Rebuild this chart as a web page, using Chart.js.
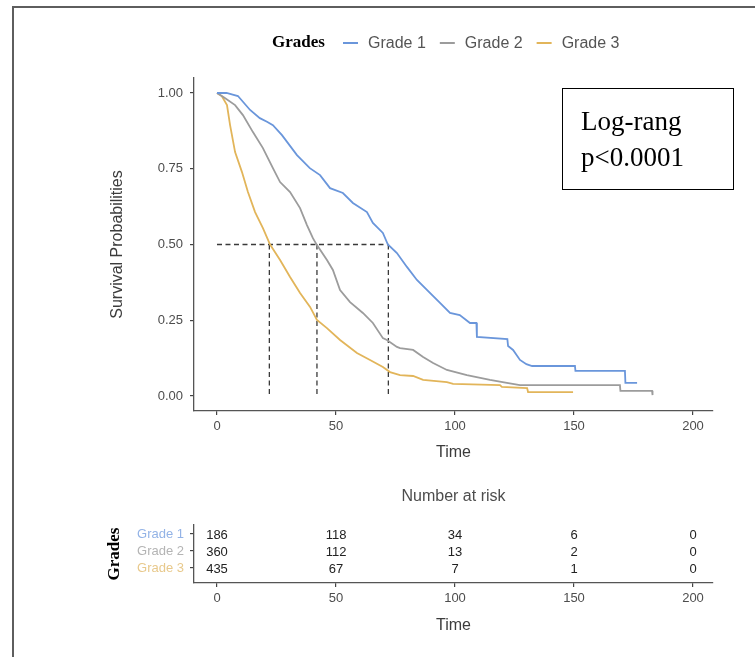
<!DOCTYPE html>
<html>
<head>
<meta charset="utf-8">
<script src="https://cdn.jsdelivr.net/npm/chart.js@4"></script>
<style>
html, body { margin: 0; padding: 0; background: #fff; }
#page { position: relative; width: 755px; height: 657px; overflow: hidden; background: #fff; }
#frame { position: absolute; left: 12px; top: 6px; width: 800px; height: 700px; border-left: 2px solid #5e5e5e; border-top: 2px solid #5e5e5e; }
#survChart { position: absolute; left: 0; top: 0; }
#riskChart { position: absolute; left: 0; top: 470px; }
</style>
</head>
<body>
<div id="page">
  <div id="frame"></div>
  <canvas id="survChart" width="755" height="470"></canvas>
  <canvas id="riskChart" width="755" height="187"></canvas>
</div>
<script>
var GRADES = ['Grade 1', 'Grade 2', 'Grade 3'];

// survival curves (time, probability)
var TIME_G1 = [0, 4, 8.8, 13.9, 18, 21, 23.5, 27.3, 33.6, 39, 43.3, 47.5, 52.9, 57.1, 63, 65.5, 69.7, 71.8, 75.6, 79.8, 84, 88.2, 93.7, 97.9, 102, 106.3, 109, 109.2, 122, 122.3, 124.4, 127.3, 130, 132.4, 150.4, 150.6, 171.4, 171.6, 176.5];
var SURV_G1 = [1, 1, 0.99, 0.944, 0.917, 0.905, 0.894, 0.861, 0.795, 0.752, 0.729, 0.686, 0.670, 0.637, 0.607, 0.571, 0.538, 0.50, 0.472, 0.426, 0.383, 0.350, 0.307, 0.274, 0.267, 0.241, 0.241, 0.195, 0.188, 0.165, 0.152, 0.119, 0.105, 0.099, 0.099, 0.083, 0.083, 0.043, 0.043];
var TIME_G2 = [0, 3, 7.6, 10.9, 15.1, 19.3, 23.5, 26.5, 30.7, 34.9, 37.8, 40.3, 42, 46.2, 48.7, 51.7, 55.9, 61.3, 65.5, 69.7, 71.4, 75.6, 76.9, 82.4, 86.6, 90.8, 96.6, 105, 114.7, 121.8, 127.3, 169.3, 169.5, 182.8, 183];
var SURV_G2 = [1, 0.985, 0.960, 0.927, 0.871, 0.818, 0.752, 0.706, 0.673, 0.620, 0.564, 0.521, 0.498, 0.449, 0.416, 0.350, 0.310, 0.274, 0.241, 0.191, 0.185, 0.162, 0.158, 0.152, 0.129, 0.109, 0.086, 0.069, 0.053, 0.043, 0.036, 0.036, 0.017, 0.017, 0.003];
var TIME_G3 = [0, 2, 4.2, 5.5, 7.6, 10.5, 13, 16, 19.3, 22.3, 26.5, 30.7, 34.9, 39.1, 42, 46.2, 51.7, 58.8, 64.3, 69.7, 72.7, 76.9, 82.4, 86.6, 96.6, 99.2, 118.9, 119.7, 130.3, 130.7, 149.6];
var SURV_G3 = [1, 0.99, 0.960, 0.894, 0.805, 0.739, 0.673, 0.607, 0.554, 0.50, 0.449, 0.393, 0.340, 0.294, 0.251, 0.224, 0.185, 0.142, 0.119, 0.096, 0.079, 0.069, 0.066, 0.053, 0.046, 0.040, 0.036, 0.030, 0.026, 0.013, 0.013];

// median survival per grade (dashed lines)
var MEDIANS = [72, 42, 22];

// number at risk table
var RISK_TIMES = [0, 50, 100, 150, 200];
var RISK_G1 = [186, 118, 34, 6, 0];
var RISK_G2 = [360, 112, 13, 2, 0];
var RISK_G3 = [435, 67, 7, 1, 0];

var X_TICKS = [0, 50, 100, 150, 200];
var Y_TICKS = [0, 0.25, 0.5, 0.75, 1];

var LINE_COLORS = ['#6a96db', '#9c9c9c', '#e2b55a'];
var LABEL_COLORS = ['#93b3e6', '#b4b4b4', '#e8c98c'];
var SANS = '"Liberation Sans", Arial, sans-serif';
var SERIF = '"Liberation Serif", "Times New Roman", serif';

Chart.defaults.font.family = SANS;
Chart.defaults.color = '#4d4d4d';

function toPoints(xs, ys) {
    var pts = [];
    for (var i = 0; i < xs.length; i++) pts.push({x: xs[i], y: ys[i]});
    return pts;
}

var survData = [toPoints(TIME_G1, SURV_G1), toPoints(TIME_G2, SURV_G2), toPoints(TIME_G3, SURV_G3)];
var datasets = [];
for (var g = 0; g < 3; g++) {
    datasets.push({
        label: GRADES[g],
        data: survData[g],
        borderColor: LINE_COLORS[g],
        borderWidth: 1.8,
        pointRadius: 0,
        tension: 0
    });
}
// horizontal dashed line at 0.5 up to the longest median, then one vertical per median
var maxMedian = Math.max.apply(null, MEDIANS);
var dashStyle = {borderColor: '#3a3a3a', borderWidth: 1.3, borderDash: [5, 3.5], pointRadius: 0};
datasets.push(Object.assign({label: 'median', data: [{x: 0, y: 0.5}, {x: maxMedian, y: 0.5}]}, dashStyle));
MEDIANS.forEach(function(m) {
    datasets.push(Object.assign({label: 'median', data: [{x: m, y: 0.5}, {x: m, y: 0}]}, dashStyle));
});

var X_MIN = -9.66, X_MAX = 208.4;

var legendPlugin = {
    id: 'gradesLegend',
    afterDraw: function(chart) {
        var ctx = chart.ctx;
        ctx.save();
        ctx.textBaseline = 'middle';
        ctx.font = 'bold 17px ' + SERIF;
        ctx.fillStyle = '#000';
        ctx.fillText('Grades', 272, 43);
        ctx.font = '16px ' + SANS;
        var x = 343;
        for (var i = 0; i < GRADES.length; i++) {
            ctx.strokeStyle = LINE_COLORS[i];
            ctx.lineWidth = 2;
            ctx.beginPath();
            ctx.moveTo(x, 43);
            ctx.lineTo(x + 15, 43);
            ctx.stroke();
            ctx.fillStyle = '#555';
            ctx.fillText(GRADES[i], x + 25, 44);
            x += 25 + ctx.measureText(GRADES[i]).width + 14;
        }
        // log-rank box
        ctx.strokeStyle = '#000';
        ctx.lineWidth = 1;
        ctx.strokeRect(562.5, 88.5, 171, 101);
        ctx.fillStyle = '#000';
        ctx.textBaseline = 'alphabetic';
        ctx.font = '27px ' + SERIF;
        ctx.fillText('Log-rang', 581, 130);
        ctx.fillText('p<0.0001', 581, 166);
        ctx.restore();
    }
};

new Chart(document.getElementById('survChart').getContext('2d'), {
    type: 'line',
    data: {datasets: datasets},
    options: {
        responsive: false,
        animation: false,
        devicePixelRatio: 1,
        layout: {padding: {left: 105, right: 42, top: 78, bottom: 0}},
        plugins: {legend: {display: false}, tooltip: {enabled: false}},
        scales: {
            x: {
                type: 'linear',
                min: X_MIN,
                max: X_MAX,
                afterBuildTicks: function(s) { s.ticks = X_TICKS.map(function(v) { return {value: v}; }); },
                afterFit: function(s) { s.height = 59; },
                grid: {drawOnChartArea: false, drawTicks: true, tickLength: 4, color: '#444', lineWidth: 1.2},
                border: {display: true, color: '#555', width: 1.3},
                ticks: {font: {size: 13}, color: '#4d4d4d', padding: 4, maxRotation: 0},
                title: {display: true, text: 'Time', font: {size: 16}, color: '#3c3c3c', padding: {top: 0, bottom: 8}}
            },
            y: {
                type: 'linear',
                min: -0.0495,
                max: 1.0495,
                afterBuildTicks: function(s) { s.ticks = Y_TICKS.map(function(v) { return {value: v}; }); },
                afterFit: function(s) { s.width = 89; },
                grid: {drawOnChartArea: false, drawTicks: true, tickLength: 4, color: '#444', lineWidth: 1.2},
                border: {display: true, color: '#555', width: 1.3},
                ticks: {font: {size: 13}, color: '#4d4d4d', padding: 7, callback: function(v) { return v.toFixed(2); }},
                title: {display: true, text: 'Survival Probabilities', font: {size: 16}, color: '#3c3c3c', padding: {top: 3, bottom: 0}}
            }
        }
    },
    plugins: [legendPlugin]
});

var RISK = [RISK_G1, RISK_G2, RISK_G3];
var riskPlugin = {
    id: 'riskTable',
    afterDraw: function(chart) {
        var ctx = chart.ctx, xs = chart.scales.x, ys = chart.scales.y;
        ctx.save();
        ctx.textAlign = 'center';
        ctx.textBaseline = 'middle';
        ctx.font = '16px ' + SANS;
        ctx.fillStyle = '#4d4d4d';
        ctx.fillText('Number at risk', (chart.chartArea.left + chart.chartArea.right) / 2, 27);
        ctx.font = '13px ' + SANS;
        ctx.fillStyle = '#222';
        for (var i = 0; i < RISK.length; i++) {
            for (var j = 0; j < RISK_TIMES.length; j++) {
                ctx.fillText(String(RISK[i][j]), xs.getPixelForValue(RISK_TIMES[j]), ys.getPixelForValue(i + 1) + 1);
            }
        }
        ctx.restore();
    }
};

new Chart(document.getElementById('riskChart').getContext('2d'), {
    type: 'scatter',
    data: {datasets: [{data: [], pointRadius: 0}]},
    options: {
        responsive: false,
        animation: false,
        devicePixelRatio: 1,
        layout: {padding: {left: 100, right: 42, top: 55, bottom: 14}},
        plugins: {legend: {display: false}, tooltip: {enabled: false}},
        scales: {
            x: {
                type: 'linear',
                min: X_MIN,
                max: X_MAX,
                afterBuildTicks: function(s) { s.ticks = RISK_TIMES.map(function(v) { return {value: v}; }); },
                afterFit: function(s) { s.height = 60; },
                grid: {drawOnChartArea: false, drawTicks: true, tickLength: 4, color: '#444', lineWidth: 1.2},
                border: {display: true, color: '#555', width: 1.3},
                ticks: {font: {size: 13}, color: '#4d4d4d', padding: 4, maxRotation: 0},
                title: {display: true, text: 'Time', font: {size: 16}, color: '#3c3c3c', padding: {top: 0, bottom: 8}}
            },
            y: {
                type: 'linear',
                reverse: true,
                min: 0.47,
                max: 3.88,
                afterBuildTicks: function(s) { s.ticks = [1, 2, 3].map(function(v) { return {value: v}; }); },
                afterFit: function(s) { s.width = 94; },
                grid: {drawOnChartArea: false, drawTicks: true, tickLength: 4, color: '#444', lineWidth: 1.2},
                border: {display: true, color: '#555', width: 1.3},
                ticks: {
                    font: {size: 13},
                    padding: 6,
                    color: function(c) { return LABEL_COLORS[Math.round(c.tick.value) - 1] || '#999'; },
                    callback: function(v) { return GRADES[Math.round(v) - 1]; }
                },
                title: {display: true, text: 'Grades', font: {size: 17, weight: 'bold', family: SERIF}, color: '#000', padding: {top: 4, bottom: 0}}
            }
        }
    },
    plugins: [riskPlugin]
});
</script>
</body>
</html>
